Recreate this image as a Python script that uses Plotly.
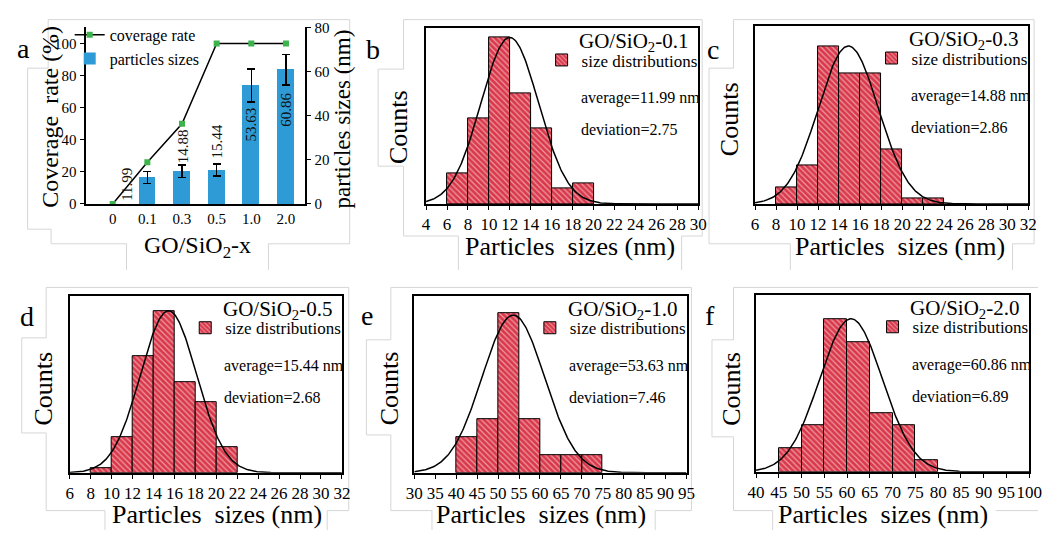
import numpy as np
import plotly.graph_objects as go

W, H = 1051, 538
FONT = "Liberation Serif"

# ---------------- data: panel a ----------------
a_categories = ["0", "0.1", "0.3", "0.5", "1.0", "2.0"]
a_coverage = [0, 26, 50, 100, 100, 100]
a_size_categories = ["0.1", "0.3", "0.5", "1.0", "2.0"]
a_sizes = [11.99, 14.88, 15.44, 53.63, 60.86]
a_size_err = [2.75, 2.86, 2.68, 7.46, 6.89]

# ---------------- data: histograms ----------------
b_bin_left = [6, 8, 10, 12, 14, 16, 18]
b_counts = [6, 17, 33, 22, 15, 3, 4]
b_mean, b_dev, b_peak = 11.99, 2.75, 33

c_bin_left = [8, 10, 12, 14, 16, 18, 20, 22]
c_counts = [3, 7, 29, 24, 24, 10, 1, 1]
c_mean, c_dev, c_peak = 14.88, 2.86, 29

d_bin_left = [8, 10, 12, 14, 16, 18, 20]
d_counts = [1, 7, 23, 32, 18, 14, 5]
d_mean, d_dev, d_peak = 15.44, 2.68, 32

e_bin_left = [40, 45, 50, 55, 60, 65, 70]
e_counts = [2, 3, 9, 3, 1, 1, 1]
e_mean, e_dev, e_peak = 53.63, 7.46, 8.9

f_bin_left = [45, 50, 55, 60, 65, 70, 75]
f_counts = [2, 4, 13, 11, 5, 4, 1]
f_mean, f_dev, f_peak = 60.86, 6.89, 13

hist_labels = ["GO/SiO<sub>2</sub>-0.1", "GO/SiO<sub>2</sub>-0.3", "GO/SiO<sub>2</sub>-0.5",
               "GO/SiO<sub>2</sub>-1.0", "GO/SiO<sub>2</sub>-2.0"]


def px_x(v):
    return v / W


def px_y(v):
    return (H - v) / H


def dom_x(l, r):
    return [px_x(l), px_x(r)]


def dom_y(t, b):
    return [px_y(b), px_y(t)]


def ptext(x, y, text, size, angle=0, xanchor="center", yanchor="middle"):
    return dict(x=px_x(x), y=px_y(y), xref="paper", yref="paper", text=text,
                textangle=angle, showarrow=False, xanchor=xanchor, yanchor=yanchor,
                font=dict(family=FONT, size=size, color="black"))


fig = go.Figure()
annotations = []

# ---------------- panel a ----------------
fig.add_trace(go.Bar(
    x=a_size_categories, y=a_sizes, yaxis="y2", xaxis="x",
    name="particles sizes", width=0.49,
    marker=dict(color="#2e9bd6", line=dict(width=0)),
    error_y=dict(type="data", array=a_size_err, color="black", thickness=1.5, width=4),
    legend="legend",
))
fig.add_trace(go.Scatter(
    x=a_categories, y=a_coverage, xaxis="x", yaxis="y",
    mode="lines+markers", name="coverage rate",
    line=dict(color="black", width=1.5),
    marker=dict(symbol="square", size=6, color="#3cb44b"),
    legend="legend",
))

AX = dict(showgrid=False, zeroline=False, showline=True, linecolor="black", linewidth=1.5,
          tickfont=dict(family=FONT, size=15, color="black"), tickcolor="black", tickangle=0)

layout = dict(
    width=W, height=H, margin=dict(l=0, r=0, t=0, b=0),
    paper_bgcolor="white", plot_bgcolor="rgba(0,0,0,0)",
    font=dict(family=FONT, color="black"),
    barmode="overlay", bargap=0,
    xaxis=dict(AX, domain=dom_x(79, 302), anchor="y", type="category",
               categoryorder="array", categoryarray=a_categories,
               range=[-0.76, 5.54], ticks=""),
    yaxis=dict(AX, domain=dom_y(20, 202), anchor="x", range=[0, 110],
               tickvals=[0, 20, 40, 60, 80, 100], ticks="outside", ticklen=5),
    yaxis2=dict(AX, overlaying="y", side="right", anchor="x", range=[0, 80],
                tickvals=[0, 20, 40, 60, 80], ticks="outside", ticklen=5),
    legend=dict(x=px_x(62), y=px_y(40), xanchor="left", yanchor="middle",
                bgcolor="rgba(0,0,0,0)", font=dict(family=FONT, size=16),
                traceorder="reversed", itemwidth=30, tracegroupgap=0),
)

# bar value labels (rotated)
label_cfg = [
    dict(y=0, yanchor="bottom", xshift=-20, yshift=1),
    dict(y=a_sizes[1], yanchor="bottom", xshift=1, yshift=6),
    dict(y=a_sizes[2], yanchor="bottom", xshift=0, yshift=9),
    dict(y=a_sizes[3] - a_size_err[3], yanchor="top", xshift=0, yshift=-3),
    dict(y=a_sizes[4] - a_size_err[4], yanchor="top", xshift=0, yshift=-6),
]
for cat, val, cfg in zip(a_size_categories, a_sizes, label_cfg):
    annotations.append(dict(x=a_categories.index(cat), y=cfg["y"], xref="x", yref="y2",
                            text=f"{val:.2f}", showarrow=False, textangle=-90,
                            xanchor="center", yanchor=cfg["yanchor"],
                            xshift=cfg["xshift"], yshift=cfg["yshift"],
                            font=dict(family=FONT, size=15, color="#111")))

annotations += [
    ptext(42, 112, "Coverage&nbsp; rate (%)", 24, angle=-90),
    ptext(341, 114, "particles sizes (nm)", 23, angle=-90),
    ptext(193, 246, "GO/SiO<sub>2</sub>-x", 24),
    ptext(15, 42, "a", 28),
]

# ---------------- histogram panels ----------------
panels = [
    ("b", b_bin_left, b_counts, 2, b_mean, b_dev, b_peak, (426, 704, 21, 202), [4, 30], 2, 34.8,
     (372, 43), (398, 123), (573, 246)),
    ("c", c_bin_left, c_counts, 2, c_mean, c_dev, c_peak, (762, 1041, 19, 202), [6, 32], 2, 32.6,
     (719, 43), (736, 115), (910, 246)),
    ("d", d_bin_left, d_counts, 2, d_mean, d_dev, d_peak, (62, 340, 297, 479), [6, 32], 2, 34.9,
     (18, 318), (35, 392), (212, 522)),
    ("e", e_bin_left, e_counts, 5, e_mean, e_dev, e_peak, (414, 692, 297, 479), [30, 95], 5, 9.97,
     (366, 317), (388, 392), (543, 522)),
    ("f", f_bin_left, f_counts, 5, f_mean, f_dev, f_peak, (763, 1042, 296, 478), [40, 100], 5, 15.0,
     (716, 317), (738, 393), (893, 522)),
]

for i, (letter, bins, counts, bw, mu, sd, peak, fr, xr, dt, ytop, lp, cp, tp) in enumerate(panels):
    xi = i + 2
    yi = i + 3
    xname, yname = f"x{xi}", f"y{yi}"
    lname = f"legend{i + 2}"
    l, r, t, b = fr
    centers = [v + bw / 2 for v in bins]
    fig.add_trace(go.Bar(
        x=centers, y=counts, width=bw, xaxis=xname, yaxis=yname,
        name="size distributions", legend=lname,
        marker=dict(color="#d9384a", line=dict(color="black", width=1),
                    pattern=dict(shape="\\", fillmode="overlay", fgcolor="white",
                                 size=4, solidity=0.3)),
    ))
    xs = np.linspace(xr[0], xr[1], 300)
    ys = peak * np.exp(-0.5 * ((xs - mu) / sd) ** 2)
    fig.add_trace(go.Scatter(x=xs, y=ys, xaxis=xname, yaxis=yname, mode="lines",
                             line=dict(color="black", width=1.5), showlegend=False,
                             hoverinfo="skip"))
    layout[f"xaxis{xi}"] = dict(AX, domain=dom_x(l, r), anchor=yname, range=xr, dtick=dt,
                                tick0=xr[0], ticks="outside", ticklen=4, mirror=True,
                                tickfont=dict(family=FONT, size=17, color="black"))
    layout[f"yaxis{yi}"] = dict(AX, domain=dom_y(t, b), anchor=xname, range=[0, ytop],
                                showticklabels=False, ticks="", mirror=True)
    layout[lname] = dict(x=px_x(r - 160), y=px_y(t + 33), xanchor="left", yanchor="middle",
                         bgcolor="rgba(0,0,0,0)", font=dict(family=FONT, size=17),
                         itemwidth=30)
    annotations += [
        ptext(r - 8, t + 14, hist_labels[i], 21, xanchor="right"),
        ptext(r - 122, t + 72, f"average={mu:.2f} nm", 16, xanchor="left"),
        ptext(r - 122, t + 104, f"deviation={sd:.2f}", 16, xanchor="left"),
        ptext(lp[0], lp[1], letter, 28),
        ptext(cp[0], cp[1], "Counts", 26, angle=-90),
        ptext(tp[0], tp[1], "Particles&nbsp; sizes (nm)", 26),
    ]

# light grey outlines of the image fragments (decoration)
outlines = [
    [(120, 270), (120, 243), (43, 243), (43, 228), (19, 228), (19, 62), (40, 62), (40, 12),
     (348, 12), (348, 243), (265, 243), (265, 270)],
    [(459, 270), (459, 235), (403, 235), (403, 163), (377, 163), (377, 63), (403, 63), (403, 12),
     (708, 12), (708, 235), (687, 235), (687, 270)],
    [(798, 270), (798, 243), (715, 243), (715, 62), (740, 62), (740, 12), (1047, 12),
     (1047, 243), (1025, 243), (1025, 270)],
    [(98, 538), (98, 518), (38, 518), (38, 438), (13, 438), (13, 340), (38, 340), (38, 288),
     (347, 288), (347, 518), (325, 518), (325, 538)],
    [(432, 538), (432, 518), (390, 518), (390, 440), (365, 440), (365, 342), (390, 342),
     (390, 288), (697, 288), (697, 518), (660, 518), (660, 538)],
    [(780, 538), (780, 518), (740, 518), (740, 442), (718, 442), (718, 342), (740, 342),
     (740, 288), (1051, 288)],
    [(1008, 518), (1051, 518)],
]
shapes = []
for pts in outlines:
    path = "M " + " L ".join(f"{px_x(x):.5f},{px_y(y):.5f}" for x, y in pts)
    shapes.append(dict(type="path", xref="paper", yref="paper", path=path,
                       line=dict(color="#d6d6d6", width=1), layer="below"))

layout["annotations"] = annotations
layout["shapes"] = shapes
fig.update_layout(**layout)
fig.write_html("out.html")
